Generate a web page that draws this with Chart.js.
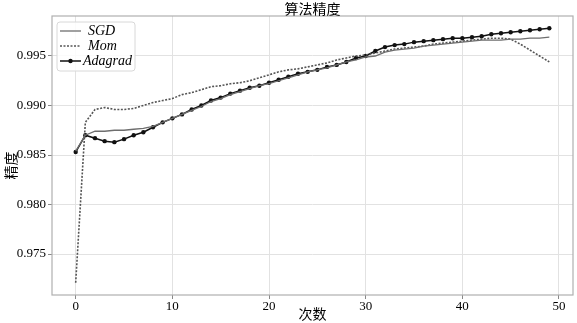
<!DOCTYPE html>
<html><head><meta charset="utf-8">
<script src="https://cdn.jsdelivr.net/npm/chart.js@4/dist/chart.umd.min.js"></script>
<style>html,body{margin:0;padding:0;background:#fff;}canvas{display:block;}</style>
</head><body>
<canvas id="c" width="577" height="323"></canvas>
<script>
const epochs = Array.from({length: 50}, (_, i) => i);
const seriesNames = ['SGD', 'Mom', 'Adagrad'];
const sgd = [0.9854,0.9870,0.9874,0.9874,0.9875,0.9875,0.9876,0.9877,0.9879,0.9883,
0.9887,0.9891,0.9895,0.9899,0.9904,0.9907,0.9911,0.9914,0.9917,0.9920,
0.9922,0.9925,0.9928,0.9931,0.9934,0.9936,0.9938,0.9941,0.9944,0.9946,
0.9949,0.9950,0.9954,0.9956,0.9957,0.9958,0.9960,0.9961,0.9962,0.9963,
0.9964,0.9965,0.9966,0.9966,0.9966,0.9967,0.9967,0.9968,0.9968,0.9969];
const mom = [0.9721,0.9883,0.9896,0.9898,0.9896,0.9896,0.9897,0.9900,0.9903,0.9905,
0.9907,0.9911,0.9913,0.9916,0.9919,0.9920,0.9922,0.9923,0.9925,0.9928,
0.9931,0.9934,0.9936,0.9937,0.9939,0.9941,0.9943,0.9946,0.9948,0.9950,
0.9951,0.9953,0.9955,0.9957,0.9958,0.9959,0.9960,0.9962,0.9963,0.9964,
0.9965,0.9966,0.9967,0.9968,0.9968,0.9967,0.9962,0.9956,0.9950,0.9944];
const adagrad = [0.9853,0.9870,0.9867,0.9864,0.9863,0.9866,0.9870,0.9873,0.9878,0.9883,
0.9887,0.9891,0.9896,0.9900,0.9905,0.9908,0.9912,0.9915,0.9918,0.9920,
0.9923,0.9926,0.9929,0.9932,0.9934,0.9936,0.9939,0.9941,0.9944,0.9948,
0.9950,0.9955,0.9959,0.9961,0.9962,0.9964,0.9965,0.9966,0.9967,0.9968,
0.9968,0.9969,0.9970,0.9972,0.9973,0.9974,0.9975,0.9976,0.9977,0.9978];
const xTicks = [0,10,20,30,40,50];
const yTicks = [0.975,0.980,0.985,0.990,0.995];
const titleText = '算法精度';
const xTitle = '次数';
const yTitle = '精度';

const serif = '"Liberation Serif","DejaVu Serif","Noto Sans CJK SC",serif';
const cjk = '"Noto Sans CJK SC","Liberation Serif",serif';

const pts = arr => arr.map((v, i) => ({x: epochs[i], y: v}));

const extras = {
  id: 'extras',
  afterDraw(chart) {
    const ctx = chart.ctx, a = chart.chartArea;
    ctx.save();
    ctx.strokeStyle = '#b0b0b0'; ctx.lineWidth = 1.2;
    ctx.strokeRect(a.left, a.top, a.right - a.left, a.bottom - a.top);
    ctx.fillStyle = '#000';
    ctx.font = '14px ' + cjk;
    ctx.textAlign = 'center'; ctx.textBaseline = 'middle';
    ctx.fillText(titleText, (a.left + a.right) / 2, 9);
    ctx.fillText(xTitle, (a.left + a.right) / 2, 314);
    ctx.save();
    ctx.translate(11, (a.top + a.bottom) / 2 + 10);
    ctx.rotate(-Math.PI / 2);
    ctx.fillText(yTitle, 0, 0);
    ctx.restore();
    // legend
    const bx = 57, by = 22, bw = 78, bh = 49;
    ctx.fillStyle = 'rgba(255,255,255,0.85)';
    ctx.strokeStyle = '#d8d8d8'; ctx.lineWidth = 1;
    ctx.beginPath();
    if (ctx.roundRect) ctx.roundRect(bx, by, bw, bh, 3); else ctx.rect(bx, by, bw, bh);
    ctx.fill(); ctx.stroke();
    const rows = [31, 46, 61];
    chart.data.datasets.forEach((ds, i) => {
      const y = rows[i];
      ctx.strokeStyle = ds.borderColor; ctx.lineWidth = ds.borderWidth;
      ctx.setLineDash(ds.borderDash || []);
      ctx.beginPath(); ctx.moveTo(60, y); ctx.lineTo(81, y); ctx.stroke();
      ctx.setLineDash([]);
      if (ds.pointRadius > 0) {
        ctx.fillStyle = ds.pointBackgroundColor;
        ctx.beginPath(); ctx.arc(70.5, y, ds.pointRadius, 0, Math.PI * 2); ctx.fill();
      }
      ctx.fillStyle = '#000';
      ctx.font = 'italic 14px ' + serif;
      ctx.textAlign = 'left'; ctx.textBaseline = 'middle';
      ctx.fillText(ds.label, i === 2 ? 83 : 88, y);
    });
    ctx.restore();
  }
};

new Chart(document.getElementById('c'), {
  type: 'line',
  data: {
    datasets: [
      {label: seriesNames[0], data: pts(sgd), borderColor: '#6e6e6e', borderWidth: 1.3, pointRadius: 0, fill: false, tension: 0},
      {label: seriesNames[1], data: pts(mom), borderColor: '#555555', borderWidth: 1.6, borderDash: [2, 1.5], pointRadius: 0, fill: false, tension: 0},
      {label: seriesNames[2], data: pts(adagrad), borderColor: '#111111', borderWidth: 1.5, pointRadius: 2.2, pointBackgroundColor: '#111111', pointBorderWidth: 0, fill: false, tension: 0}
    ]
  },
  options: {
    responsive: false, animation: false,
    layout: {padding: {top: 16, right: 2, left: 0, bottom: 0}},
    plugins: {legend: {display: false}, title: {display: false}, tooltip: {enabled: false}},
    scales: {
      x: {
        type: 'linear', min: -2.45, max: 51.45,
        afterBuildTicks: s => { s.ticks = xTicks.map(v => ({value: v})); },
        afterFit: s => { s.height = 28; },
        grid: {color: '#e2e2e2', lineWidth: 1, tickLength: 4, tickColor: '#888', drawOnChartArea: true},
        border: {display: false},
        ticks: {color: '#000', font: {family: serif, size: 13}, padding: 0, maxRotation: 0, callback: v => String(v)}
      },
      y: {
        type: 'linear', min: 0.97086, max: 0.99904,
        afterBuildTicks: s => { s.ticks = yTicks.map(v => ({value: v})); },
        afterFit: s => { s.width = 52; },
        grid: {color: '#e2e2e2', lineWidth: 1, tickLength: 4, tickColor: '#888'},
        border: {display: false},
        ticks: {color: '#000', font: {family: serif, size: 13}, padding: 2, callback: v => v.toFixed(3)}
      }
    }
  },
  plugins: [extras]
});
</script>
</body></html>
